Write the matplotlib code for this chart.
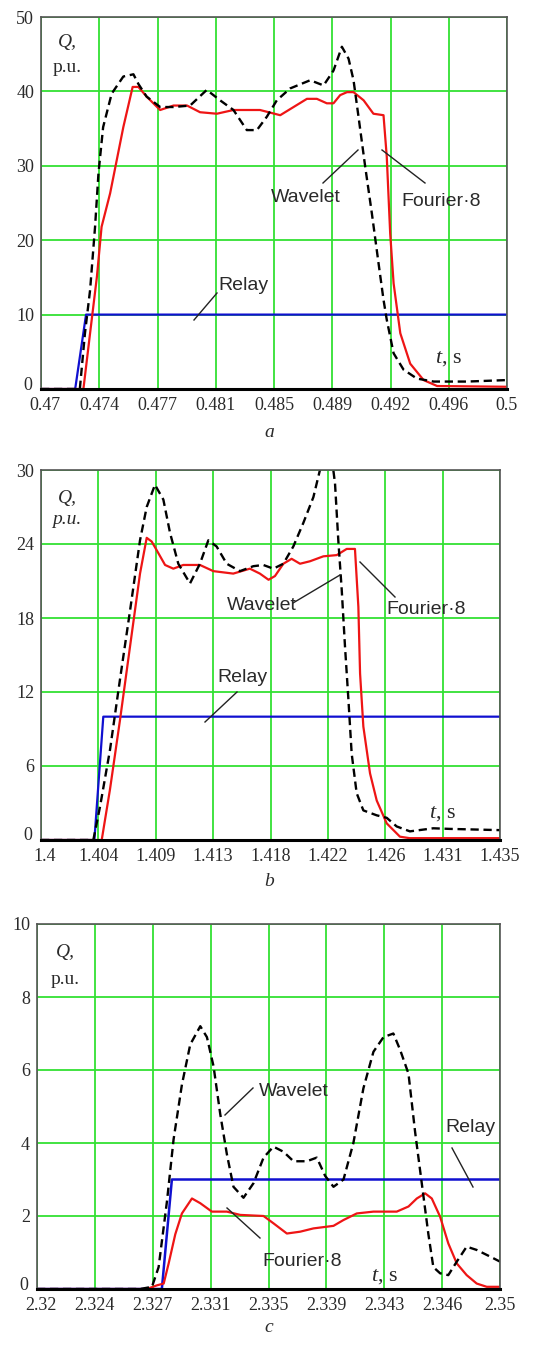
import numpy as np
import matplotlib
matplotlib.use("Agg")
from matplotlib import pyplot as plt
from matplotlib.lines import Line2D
from matplotlib.transforms import ScaledTranslation

plt.rcParams["mathtext.fontset"] = "custom"
plt.rcParams["mathtext.it"] = "Liberation Serif:italic"
plt.rcParams["mathtext.rm"] = "Liberation Serif"

# ---- panel a ----
ta_wav = [0.47, 0.4725, 0.47283, 0.47316, 0.47348, 0.4737, 0.4740, 0.47455, 0.4753, 0.47595,
          0.47627, 0.4768, 0.47767, 0.47853, 0.4796, 0.48067, 0.48153, 0.48239, 0.48325,
          0.4839, 0.48454, 0.48518, 0.48604, 0.48733, 0.48819, 0.48883, 0.48937, 0.4898,
          0.49012, 0.49044, 0.49087, 0.4913, 0.49173, 0.49205, 0.49226, 0.4927, 0.49334,
          0.4942, 0.49528, 0.49743, 0.5]
qa_wav = [0, 0, 7.5, 13.3, 21.8, 29, 35.2, 39.7, 42, 42.3,
          41, 39.3, 37.9, 37.9, 38.1, 40.2, 38.8, 37.5, 34.8,
          34.8, 36.6, 38.8, 40.4, 41.5, 40.8, 42.8, 46, 44.4,
          41.5, 36.6, 29.9, 23.6, 16.9, 12, 9.3, 4.8, 2.6,
          1.4, 1.0, 1.0, 1.2]
ta_four = [0.47, 0.47273, 0.47316, 0.4736, 0.4739, 0.47445, 0.4753, 0.4759, 0.47627, 0.4768,
           0.47767, 0.47853, 0.4794, 0.48024, 0.48132, 0.48239, 0.4841, 0.4854, 0.48626,
           0.48712, 0.48776, 0.4884, 0.48883, 0.48926, 0.4897, 0.49012, 0.49077, 0.4914,
           0.49205, 0.49226, 0.49248, 0.4927, 0.49313, 0.49377, 0.49463, 0.4955, 0.5]
qa_four = [0, 0, 7.5, 15.1, 21.8, 26.3, 35.2, 40.6, 40.6, 39.3,
           37.5, 38.1, 38.1, 37.2, 37.0, 37.5, 37.5, 36.8, 37.9,
           39.0, 39.0, 38.4, 38.4, 39.5, 39.9, 39.9, 38.8, 37.0,
           36.8, 31.2, 20.9, 14.2, 7.5, 3.4, 1.2, 0.4, 0.3]
ta_relay = [0.47, 0.4722, 0.4729, 0.5]
qa_relay = [0, 0, 10, 10]

# ---- panel b ----
tb_wav = [1.4, 1.40399, 1.4045, 1.40526, 1.40602, 1.40679, 1.40755, 1.40806, 1.40869, 1.40933,
          1.40984, 1.41047, 1.41136, 1.41212, 1.41276, 1.41339, 1.41416, 1.41517, 1.41619,
          1.41695, 1.41772, 1.41848, 1.41924, 1.42, 1.42077, 1.42127, 1.4218, 1.42229,
          1.42242, 1.42267, 1.42293, 1.42318, 1.42344, 1.42369, 1.42407, 1.42458, 1.4256,
          1.42636, 1.42712, 1.42813, 1.42991, 1.43118, 1.435]
qb_wav = [0, 0, 2.7, 7.3, 13, 18.6, 24.3, 27, 28.8, 27.6,
          24.9, 22.4, 20.8, 22.4, 24.3, 23.8, 22.4, 21.8, 22.2,
          22.3, 22.0, 22.4, 23.8, 25.7, 27.8, 30, 31.2, 30,
          28.9, 24.3, 20.3, 15.7, 11.4, 7, 3.8, 2.4, 2.0,
          1.8, 1.1, 0.7, 0.95, 0.9, 0.8]
tb_four = [1.4, 1.40463, 1.40526, 1.40602, 1.40679, 1.40755, 1.40806, 1.40844, 1.40882, 1.40946,
           1.41009, 1.41085, 1.41212, 1.41314, 1.41466, 1.41593, 1.41669, 1.41735, 1.41784,
           1.41848, 1.41911, 1.41975, 1.42051, 1.42153, 1.42255, 1.42331, 1.42394, 1.4242,
           1.42433, 1.42458, 1.42509, 1.4256, 1.42636, 1.42737, 1.4281, 1.435]
qb_four = [0, 0, 4.1, 9.7, 15.7, 21.6, 24.5, 24.2, 23.5, 22.3,
           22.0, 22.3, 22.3, 21.8, 21.6, 22.0, 21.6, 21.1, 21.4,
           22.4, 22.8, 22.4, 22.6, 23.0, 23.1, 23.6, 23.6, 18.9,
           13.5, 9.2, 5.4, 3.2, 1.35, 0.27, 0.15, 0.15]
tb_relay = [1.4, 1.40407, 1.40475, 1.435]
qb_relay = [0, 0, 10, 10]

# ---- panel c ----
tc_wav = [2.32, 2.32669, 2.32745, 2.32788, 2.32842, 2.32885, 2.32939, 2.32993, 2.33058, 2.33101,
          2.33144, 2.33187, 2.3323, 2.33273, 2.33338, 2.33403, 2.33468, 2.33532, 2.33597,
          2.33662, 2.33748, 2.33813, 2.33867, 2.33921, 2.33986, 2.3405, 2.34115, 2.3418,
          2.34245, 2.34309, 2.34353, 2.34407, 2.3445, 2.34493, 2.34536, 2.34568, 2.34612,
          2.34665, 2.3472, 2.34784, 2.34849, 2.34935, 2.35]
qc_wav = [0, 0, 0.06, 0.6, 2.4, 4.1, 5.6, 6.7, 7.2, 6.9,
          6.1, 4.8, 3.7, 2.8, 2.5, 2.9, 3.6, 3.9, 3.76,
          3.5, 3.5, 3.6, 3.1, 2.8, 3.0, 4.0, 5.5, 6.5,
          6.9, 7.0, 6.55, 5.9, 4.3, 2.9, 1.5, 0.6, 0.43,
          0.38, 0.75, 1.16, 1.07, 0.89, 0.75]
tc_four = [2.32, 2.32712, 2.32777, 2.32821, 2.32853, 2.32896, 2.32939, 2.33004, 2.33058, 2.33133,
           2.3323, 2.33317, 2.33468, 2.33532, 2.33619, 2.33705, 2.33791, 2.33921, 2.33986,
           2.34072, 2.3418, 2.34331, 2.34407, 2.34461, 2.34515, 2.34558, 2.34612, 2.34665,
           2.3472, 2.34784, 2.34849, 2.34914, 2.35]
qc_four = [0, 0, 0.1, 0.15, 0.7, 1.5, 2.07, 2.48, 2.35, 2.12,
           2.12, 2.03, 2.0, 1.8, 1.52, 1.57, 1.66, 1.73, 1.89,
           2.07, 2.12, 2.12, 2.26, 2.48, 2.62, 2.48, 1.98, 1.25,
           0.7, 0.38, 0.15, 0.06, 0.06]
tc_relay = [2.32, 2.32809, 2.32874, 2.35]
qc_relay = [0, 0, 3, 3]

xlabels_a = ["0.47", "0.474", "0.477", "0.481", "0.485", "0.489", "0.492", "0.496", "0.5"]
xlabels_b = ["1.4", "1.404", "1.409", "1.413", "1.418", "1.422", "1.426", "1.431", "1.435"]
xlabels_c = ["2.32", "2.324", "2.327", "2.331", "2.335", "2.339", "2.343", "2.346", "2.35"]
yticks_a = [0, 10, 20, 30, 40, 50]
yticks_b = [0, 6, 12, 18, 24, 30]
yticks_c = [0, 2, 4, 6, 8, 10]

W, H = 538, 1347
SERIF = ["Liberation Serif", "DejaVu Serif"]
SANS = ["Liberation Sans", "DejaVu Sans"]
GREEN = "#33e033"
TXT = "#2a2a2a"

fig = plt.figure(figsize=(W / 100, H / 100), dpi=100)


def px(x, y):
    return x / W, 1 - y / H


def make_axes(l, t, r, b):
    return fig.add_axes([l / W, 1 - b / H, (r - l) / W, (b - t) / H])


def panel(ax, xlim, ylim, xlabels, yticks, series):
    for t, q, c, ls, lw in series:
        ax.plot(t, q, color=c, linestyle=ls, lw=lw)
    ax.set_xlim(*xlim)
    ax.set_ylim(*ylim)
    ax.set_xticks(np.linspace(xlim[0], xlim[1], 9))
    ax.set_xticklabels(xlabels)
    ax.set_yticks(yticks)
    ax.set_yticklabels([str(v) for v in yticks])
    ax.grid(True, color=GREEN, lw=1.3)
    ax.set_axisbelow(True)
    ax.tick_params(length=0, labelsize=13, colors=TXT)
    ax.tick_params(axis="x", pad=6)
    ax.tick_params(axis="y", pad=5)
    for lab in ax.get_xticklabels() + ax.get_yticklabels():
        lab.set_family(SERIF)
    # Mathcad-style corner: "0" sits a bit up, first x label a bit right
    ylab0 = ax.get_yticklabels()[0]
    ylab0.set_transform(ylab0.get_transform() + ScaledTranslation(-2 / 100, 6 / 100, fig.dpi_scale_trans))
    xlab0 = ax.get_xticklabels()[0]
    xlab0.set_transform(xlab0.get_transform() + ScaledTranslation(4 / 100, 0, fig.dpi_scale_trans))
    for s in ax.spines.values():
        s.set_color("#555555")
        s.set_linewidth(1.2)
    ax.spines["bottom"].set_color("black")
    ax.spines["bottom"].set_linewidth(2.2)


def label(x, y, s, **kw):
    fig.text(*px(x, y), s, ha="center", va="center", color=TXT, **kw)


def leader(x0, y0, x1, y1):
    fig.add_artist(Line2D([x0 / W, x1 / W], [1 - y0 / H, 1 - y1 / H],
                          transform=fig.transFigure, color="#222222", lw=1.0))


DASH = (0, (3.5, 2))

# panel a
ax = make_axes(41, 17, 507, 389)
panel(ax, (0.47, 0.5), (0, 50), xlabels_a, yticks_a,
      [(ta_relay, qa_relay, "#1010d0", "-", 1.6),
       (ta_four, qa_four, "#ee1515", "-", 1.6),
       (ta_wav, qa_wav, "black", DASH, 1.7)])
label(67, 43, "Q,", family=SERIF, style="italic", fontsize=14)
label(67, 68, "p.u.", family=SERIF, fontsize=14)
label(306, 198, "Wavelet", family=SANS, fontsize=14)
leader(323, 183, 358, 150)
label(441, 201, "Fourier\u00b78", family=SANS, fontsize=14)
leader(425, 183, 382, 150)
label(243, 285, "Relay", family=SANS, fontsize=14)
leader(217, 293, 194, 320)
label(449, 358, "$\\it{t}$, s", family=SERIF, fontsize=16)
label(269, 432, "a", family=SERIF, style="italic", fontsize=14)

# panel b
ax = make_axes(41, 470, 500, 840)
panel(ax, (1.4, 1.435), (0, 30), xlabels_b, yticks_b,
      [(tb_relay, qb_relay, "#1010d0", "-", 1.6),
       (tb_four, qb_four, "#ee1515", "-", 1.6),
       (tb_wav, qb_wav, "black", DASH, 1.7)])
label(67, 498, "Q,", family=SERIF, style="italic", fontsize=14)
label(67, 520, "p.u.", family=SERIF, style="italic", fontsize=14)
label(262, 605, "Wavelet", family=SANS, fontsize=14)
leader(293, 603, 340, 575)
label(426, 609, "Fourier\u00b78", family=SANS, fontsize=14)
leader(395, 597, 360, 562)
label(242, 677, "Relay", family=SANS, fontsize=14)
leader(237, 692, 205, 722)
label(443, 813, "$\\it{t}$, s", family=SERIF, fontsize=16)
label(269, 882, "b", family=SERIF, style="italic", fontsize=14)

# panel c
ax = make_axes(37, 924, 500, 1289)
panel(ax, (2.32, 2.35), (0, 10), xlabels_c, yticks_c,
      [(tc_relay, qc_relay, "#1010d0", "-", 1.8),
       (tc_four, qc_four, "#ee1515", "-", 1.6),
       (tc_wav, qc_wav, "black", DASH, 1.7)])
label(65, 952, "Q,", family=SERIF, style="italic", fontsize=14)
label(65, 980, "p.u.", family=SERIF, fontsize=14)
label(294, 1092, "Wavelet", family=SANS, fontsize=14)
leader(253, 1088, 225, 1115)
label(470, 1128, "Relay", family=SANS, fontsize=14)
leader(452, 1148, 473, 1187)
label(302, 1262, "Fourier\u00b78", family=SANS, fontsize=14)
leader(260, 1238, 227, 1208)
label(385, 1277, "$\\it{t}$, s", family=SERIF, fontsize=16)
label(269, 1328, "c", family=SERIF, style="italic", fontsize=14)

fig.savefig("out.png", dpi=100, facecolor="white")
